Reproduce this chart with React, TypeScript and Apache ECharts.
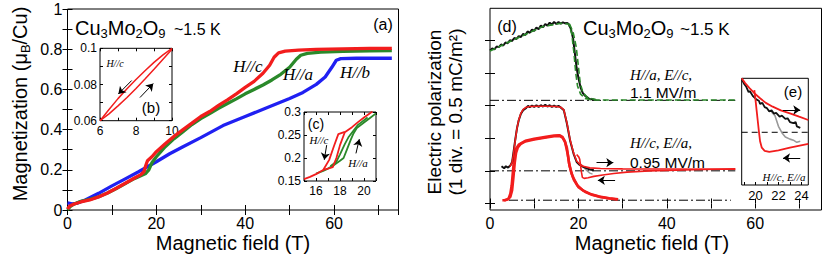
import React, { useEffect, useRef } from 'react';
import * as echarts from 'echarts';

// ---------- Panel (a): magnetization vs field ----------
const magHc = [[0,0.005],[0.5,0.02],[1.5,0.03],[3,0.04],[5,0.05],[7,0.065],[9,0.085],[11,0.108],[13,0.133],[15,0.158],[16.5,0.176],[17.2,0.19],[17.6,0.22],[18,0.245],[19,0.265],[20,0.29],[22,0.33],[24,0.367],[26,0.4],[28,0.432],[30,0.465],[32,0.49],[34,0.52],[36,0.548],[38,0.578],[40,0.61],[42,0.64],[44,0.68],[45.5,0.72],[46.5,0.76],[47.5,0.782],[49,0.79],[52,0.795],[56,0.799],[62,0.802],[68,0.804],[73,0.804]];
const magHa = [[0,0],[0.5,0.015],[1.5,0.03],[3,0.043],[5,0.053],[7,0.066],[9,0.085],[11,0.107],[13,0.131],[15,0.156],[16.5,0.171],[17.5,0.18],[18.3,0.2],[19,0.235],[20,0.265],[22,0.315],[24,0.355],[26,0.39],[28,0.425],[30,0.455],[32,0.48],[34,0.506],[36,0.53],[38,0.553],[40,0.578],[42,0.6],[44,0.622],[46,0.647],[48,0.675],[50,0.71],[51.5,0.75],[52.5,0.77],[54,0.779],[57,0.785],[62,0.789],[68,0.792],[73,0.793]];
const magHb = [[0,0.035],[1,0.03],[2,0.033],[4,0.05],[7,0.083],[10,0.12],[13,0.155],[16,0.19],[18,0.215],[20,0.24],[23,0.28],[26,0.315],[30,0.36],[35,0.42],[40,0.465],[45,0.51],[50,0.555],[53,0.585],[56,0.625],[58,0.662],[59.5,0.71],[60.5,0.745],[61.5,0.753],[65,0.755],[73,0.755]];

// inset (b)
const bDown = [[6,0.06],[6.5,0.0662],[7,0.0722],[7.5,0.0776],[8,0.0828],[8.5,0.0876],[9,0.0922],[9.5,0.0964],[10,0.1]];
const bUp = [[6,0.06],[6.5,0.0638],[7,0.0682],[7.5,0.0728],[8,0.0778],[8.5,0.083],[9,0.0884],[9.5,0.094],[10,0.0995]];
const bArrows = [[[7.76,0.0822],[7.02,0.0748]],[[8.22,0.0728],[8.96,0.0805]]];

// inset (c)
const cRedUp = [[15,0.154],[15.5,0.159],[16,0.165],[16.6,0.174],[17,0.177],[17.4,0.18],[17.7,0.2],[18,0.228],[18.4,0.256],[19,0.267],[19.5,0.278],[20,0.288],[20.7,0.301]];
const cRedDown = [[18.4,0.257],[17.86,0.252],[17.5,0.226],[17.1,0.196],[16.6,0.174]];
const cGreenUp = [[16,0.166],[16.6,0.172],[17,0.177],[17.5,0.185],[18,0.194],[18.3,0.2],[18.6,0.22],[18.9,0.24],[19.1,0.252],[19.4,0.265],[20,0.277],[20.5,0.287],[21,0.297]];
const cGreenDown = [[20.3,0.288],[19.5,0.272],[18.7,0.245],[18.4,0.23],[18,0.208],[17.7,0.192],[17.2,0.182]];
const cArrows = [[[16.89,0.228],[16.69,0.196]],[[19.33,0.21],[19.61,0.241]]];

// ---------- Panel (d): electric polarization (divisions) ----------
const pTopBlack = [[0,4.69],[0.5,4.75],[1,4.72],[1.5,4.81],[2,4.79],[2.5,4.87],[3,4.84],[3.5,4.93],[4,4.91],[4.5,5.0],[5,4.98],[5.5,5.07],[6,5.04],[6.5,5.13],[7,5.1],[7.5,5.2],[8,5.16],[8.5,5.27],[9,5.23],[9.5,5.33],[10,5.29],[10.5,5.39],[11,5.34],[11.5,5.45],[12,5.4],[12.5,5.5],[13,5.45],[13.5,5.54],[14,5.48],[14.5,5.56],[15,5.5],[15.5,5.56],[16,5.51],[16.5,5.55],[17,5.52],[17.5,5.53],[17.8,5.5],[18.3,5.35],[18.8,5.05],[19.2,4.6],[19.6,4.15],[20,3.85],[20.5,3.55],[21,3.38],[21.5,3.3],[22,3.25],[22.5,3.2],[23,3.19],[24,3.17]];
const pTopGreenA = [[0,4.67],[4,4.93],[8,5.18],[12,5.42],[16,5.52],[17.8,5.5],[18.5,5.2],[19,4.6],[19.4,4.0],[19.8,3.6],[20.5,3.35],[21.5,3.22],[23,3.17],[25,3.17],[56,3.17]];
const pTopGreenB = [[18,5.5],[18.8,5.25],[19.5,4.8],[20,4.2],[20.4,3.7],[21,3.4],[22,3.25],[24,3.18]];
const pMidBlack = [[2.6,1.14],[3.2,1.08],[3.6,1.14],[4.1,1.1],[4.6,1.16],[5,1.27],[5.3,1.55],[5.7,1.94],[6.1,2.3],[6.5,2.55],[7,2.75],[7.5,2.86],[8.2,2.93],[8.6,2.99],[9,2.95],[9.5,3.0],[10,2.96],[10.5,3.01],[11,2.96],[11.5,3.01],[12,2.97],[12.5,3.02],[13,2.97],[13.5,3.01],[14,2.96],[14.5,3.0],[15,2.96],[15.5,2.99],[16,2.94],[16.7,2.86],[17.4,2.45],[18.1,1.94],[18.9,1.53],[19.6,1.27],[20.3,1.18],[21.1,1.12],[22.6,1.04],[23.5,1.02]];
const pMidGray = [[20.5,1.2],[21.2,1.1],[22,1.0],[22.6,0.93],[23.2,0.9]];
const pMidRedUp = [[4.5,1.13],[5,1.25],[5.3,1.5],[5.7,1.92],[6.1,2.3],[6.5,2.56],[7,2.77],[7.5,2.88],[8.2,2.95],[9,2.97],[11,2.98],[13,2.98],[15,2.97],[16,2.95],[16.7,2.87],[17.4,2.47],[18.1,1.97],[18.9,1.55],[19.6,1.3],[20.3,1.2],[21.1,1.14],[22.6,1.09],[25,1.07],[30,1.06],[40,1.055],[55.5,1.05]];
const pMidRedDown = [[55.5,1.06],[48,1.04],[42,1.02],[36,1.0],[31,0.96],[28,0.92],[25.5,0.87],[23.5,0.83],[22.2,0.79],[21.3,0.77],[20.9,0.8],[20.7,0.95],[20.5,1.15],[20.3,1.35],[20.1,1.42],[19.6,1.5]];
const pLowRedA = [[2.8,0.1],[3.5,0.1],[4.2,0.15],[4.6,0.3],[4.9,0.55],[5.2,1.0],[5.5,1.45],[5.9,1.68],[6.5,1.8],[8,1.92],[10,1.98],[12.7,2.04],[14.5,2.08],[15.7,2.09],[16.4,2.04],[16.9,1.92],[17.4,1.7],[17.9,1.22],[18.4,0.95],[18.8,0.8],[19.8,0.55],[21,0.4],[22.5,0.3],[24.7,0.21],[27,0.16],[29,0.13]];
const pLowRedB = [[3.2,0.1],[4,0.12],[4.6,0.2],[5,0.4],[5.3,0.8],[5.6,1.25],[5.9,1.55],[6.3,1.72],[7,1.83],[8,1.9],[10,1.96],[12.7,2.02],[14.5,2.06],[15.7,2.07],[16.4,2.02],[17,1.88],[17.6,1.5],[18,1.15],[18.5,0.9],[19,0.72],[20,0.5],[21.5,0.36],[23,0.27],[25,0.2],[27,0.15],[28.8,0.12]];
const pBaseTop = [[0,3.16],[55.5,3.16]];
const pBaseMid = [[0,1.0],[55.5,1.0]];
const pBaseLow = [[4.3,0.1],[54.5,0.1]];
const dArrows = [[[24.1,1.25],[27.9,1.25]],[[28.3,0.71],[24.4,0.71]]];

// inset (e)
const eRedUp = [[18.8,10],[19.1,9.55],[19.5,9.06],[19.9,8.6],[20.4,8.13],[20.9,7.7],[21.5,7.34],[22.2,7.0],[23,6.72],[23.8,6.4],[24.6,6.09]];
const eRedDown = [[19.9,8.9],[20.0,8.0],[20.1,7.0],[20.2,6.0],[20.3,5.0],[20.4,4.1],[20.55,3.5],[20.8,3.2],[21.2,3.1],[22,3.25],[23,3.5],[24.6,3.85]];
const eBlack = [[18.8,9.9],[19.0,9.5],[19.2,9.2],[19.4,8.7],[19.5,8.8],[19.8,8.3],[20.1,8.0],[20.3,7.9],[20.4,7.6],[20.6,7.7],[20.8,7.3],[21.0,7.2],[21.2,6.9],[21.4,7.0],[21.6,6.7],[21.8,6.75],[22.1,6.4],[22.3,6.5],[22.6,6.2],[22.8,6.25],[23,5.9],[23.3,5.8],[23.5,5.9],[23.6,5.5],[23.9,5.35]];
const eGray = [[21.4,6.85],[21.7,6.5],[22,5.5],[22.3,4.9],[22.6,4.5],[23,4.3],[23.3,4.2],[23.6,4.0],[23.9,4.1]];
const eBase = [[18.8,4.94],[24.6,4.94]];
const eArrows = [[[22.4,7.03],[23.9,7.03]],[[23.9,2.53],[22.4,2.53]]];

const SANS = 'Liberation Sans, Arial, sans-serif';
const SERIF = 'Liberation Serif, Times New Roman, serif';
const RED = '#f21d1d';
const GREEN = '#2a892a';
const BLUE = '#2020f2';

export default function App() {
  const ref = useRef<HTMLDivElement>(null);
  useEffect(() => {
    const chart = echarts.init(ref.current!, null, { renderer: 'svg' });
    const tick = (len: number, extra: any = {}) => ({ show: true, inside: true, length: len, lineStyle: { color: '#000', width: 1 }, ...extra });
    const noSplit = { show: false };
    const lab = (size: number, margin: number, formatter?: any, extra: any = {}) => ({ show: true, color: '#000', fontSize: size, fontFamily: SANS, margin, formatter, ...extra });
    const even10 = (v: number) => { const r = Math.round(v * 10); return r % 2 === 0 ? String(r / 10) : ''; };
    const even100 = (v: number) => { const r = Math.round(v * 100); return r % 2 === 0 ? String(r / 100) : ''; };
    const mult20 = (v: number) => { const r = Math.round(v); return Math.abs(v - r) < 1e-6 && r % 20 === 0 ? String(r) : ''; };
    const evenInt = (v: number) => { const r = Math.round(v); return Math.abs(v - r) < 1e-6 && r % 2 === 0 ? String(r) : ''; };

    const ax = (gridIndex: number, min: number, max: number, position: string, t: any, l: any, interval?: number) => ({
      type: 'value', gridIndex, min, max, interval, position,
      axisLine: { show: false }, axisTick: t, axisLabel: l || { show: false }, splitLine: noSplit,
    });

    const line = (xi: number, data: any, color: string, width: number, extra: any = {}) => ({
      type: 'line', xAxisIndex: xi, yAxisIndex: xi, data, showSymbol: false, symbol: 'none', silent: true,
      lineStyle: { color, width, ...(extra.lineStyle || {}) }, z: extra.z || 2, smooth: extra.smooth || false,
    });
    const arrows = (xi: number, segs: any) => ({
      type: 'lines', coordinateSystem: 'cartesian2d', xAxisIndex: xi, yAxisIndex: xi, silent: true,
      symbol: ['none', 'arrow'], symbolSize: 7, z: 5,
      lineStyle: { color: '#000', width: 1, opacity: 1, curveness: 0 },
      data: segs.map((c: any) => ({ coords: c })),
    });

    const gridBox = { show: true, borderColor: '#000', borderWidth: 1, backgroundColor: '#fff' };

    const txt = (x: number, y: number, text: string, font: string, align = 'left', extra: any = {}) => ({
      type: 'text', x, y, z: 10, ...extra,
      style: { text, font, fill: '#000', align, verticalAlign: 'middle', ...(extra.style || {}) },
    });
    const formula = (x: number, y: number) => ({
      type: 'text', x, y, z: 10,
      style: {
        text: '{n|Cu}{s|3}{n|Mo}{s|2}{n|O}{s|9}', fill: '#000', align: 'left', verticalAlign: 'middle',
        rich: {
          n: { fontSize: 20, fontFamily: SANS, fill: '#000' },
          s: { fontSize: 13, fontFamily: SANS, fill: '#000', padding: [10, 0, 0, 0] },
        },
      },
    });

    const option: any = {
      animation: false,
      backgroundColor: '#fff',
      textStyle: { fontFamily: SANS },
      grid: [
        { left: 67.5, top: 9, width: 331, height: 201, ...gridBox },
        { left: 100, top: 48.3, width: 72, height: 72.4, ...gridBox },
        { left: 304, top: 112, width: 72, height: 69, ...gridBox },
        { left: 490, top: 8.3, width: 331.5, height: 201.7, ...gridBox },
        { left: 741.7, top: 78.3, width: 66.6, height: 106.7, ...gridBox },
      ],
      xAxis: [
        ax(0, 0, 74.5, 'bottom', tick(5), lab(16, 5, mult20), 10),
        ax(1, 6, 10, 'bottom', tick(3), lab(12, 4, evenInt), 1),
        ax(2, 15, 21, 'bottom', tick(3), lab(12, 4, evenInt), 1),
        ax(3, 0, 75, 'bottom', tick(5), lab(16, 5, mult20), 10),
        ax(4, 18.8, 24.6, 'bottom', tick(3, { customValues: [19, 20, 21, 22, 23, 24] }), lab(13, 4, undefined, { customValues: [20, 22, 24] })),
        ax(0, 0, 74.5, 'top', tick(5), null, 10),
        ax(1, 6, 10, 'top', tick(3), null, 1),
        ax(2, 15, 21, 'top', tick(3), null, 1),
        ax(3, 0, 75, 'top', tick(5), null, 10),
      ],
      yAxis: [
        ax(0, 0, 1, 'left', tick(5), lab(16, 5, even10), 0.1),
        ax(1, 0.06, 0.1, 'left', tick(3), lab(12, 3, even100), 0.01),
        ax(2, 0.15, 0.3, 'left', tick(3), lab(12, 3, (v: number) => String(Math.round(v * 100) / 100)), 0.05),
        ax(3, -0.2, 5.98, 'left', tick(5, { customValues: [0, 1, 2, 3, 4, 5] }), null),
        ax(4, 0, 10, 'left', { show: false }, null),
        ax(0, 0, 1, 'right', tick(5), null, 0.1),
        ax(1, 0.06, 0.1, 'right', tick(3), null, 0.01),
        ax(2, 0.15, 0.3, 'right', tick(3), null, 0.05),
        ax(3, -0.2, 5.98, 'right', tick(5, { customValues: [0, 1, 2, 3, 4, 5] }), null),
      ],
      series: [
        // (a)
        line(0, magHb, BLUE, 3.3),
        line(0, magHa, GREEN, 3.3),
        line(0, magHc, RED, 3.3),
        // (b)
        line(1, bDown, RED, 1.5),
        line(1, bUp, RED, 1.5),
        arrows(1, bArrows),
        // (c)
        line(2, cGreenUp, GREEN, 1.8),
        line(2, cGreenDown, GREEN, 1.8),
        line(2, cRedUp, RED, 1.8),
        line(2, cRedDown, RED, 1.8),
        arrows(2, cArrows),
        // (d)
        line(3, pBaseTop, '#000', 1, { lineStyle: { type: [9, 3, 2, 3] } }),
        line(3, pBaseMid, '#000', 1, { lineStyle: { type: [9, 3, 2, 3] } }),
        line(3, pBaseLow, '#000', 1, { lineStyle: { type: [9, 3, 2, 3] } }),
        line(3, pTopBlack, '#111', 2),
        line(3, pTopGreenA, GREEN, 1.6, { lineStyle: { type: [6, 3] }, z: 3 }),
        line(3, pTopGreenB, GREEN, 1.6, { lineStyle: { type: [6, 3] }, z: 3 }),
        line(3, pLowRedA, RED, 2.6),
        line(3, pLowRedB, RED, 2.6),
        line(3, pMidGray, '#999', 1.5),
        line(3, pMidBlack, '#111', 2),
        line(3, pMidRedUp, RED, 1.6, { z: 3 }),
        line(3, pMidRedDown, RED, 1.6, { z: 3 }),
        arrows(3, dArrows),
        // (e)
        line(4, eBase, '#000', 1, { lineStyle: { type: [6, 4] } }),
        line(4, eGray, '#999', 1.6),
        line(4, eBlack, '#111', 1.8),
        line(4, eRedUp, RED, 1.8),
        line(4, eRedDown, RED, 1.8),
        arrows(4, eArrows),
      ],
      graphic: [
        // panel (a)
        formula(75, 28),
        txt(174, 29, '~1.5 K', `16px ${SANS}`),
        txt(383, 24, '(a)', `16px ${SANS}`, 'center'),
        txt(248, 66, 'H//c', `italic 17px ${SERIF}`, 'center'),
        txt(298, 74, 'H//a', `italic 17px ${SERIF}`, 'center'),
        txt(355, 72, 'H//b', `italic 17px ${SERIF}`, 'center'),
        txt(115, 63, 'H//c', `italic 10px ${SERIF}`, 'center'),
        txt(151, 107, '(b)', `15px ${SANS}`, 'center'),
        txt(316, 124, '(c)', `14px ${SANS}`, 'center'),
        txt(319, 140, 'H//c', `italic 11px ${SERIF}`, 'center'),
        txt(358, 163, 'H//a', `italic 11px ${SERIF}`, 'center'),
        txt(20, 104, '', '', 'center', {
          rotation: Math.PI / 2,
          style: {
            text: '{n|Magnetization (μ}{s|B}{n|/Cu)}',
            rich: {
              n: { fontSize: 20, fontFamily: SANS, fill: '#000' },
              s: { fontSize: 13, fontFamily: SANS, fill: '#000', padding: [10, 0, 0, 0] },
            },
          },
        }),
        txt(233, 243, 'Magnetic field (T)', `20px ${SANS}`, 'center'),
        // panel (d)
        txt(507, 26, '(d)', `16px ${SANS}`, 'center'),
        formula(583, 28),
        txt(680, 29, '~1.5 K', `17px ${SANS}`),
        txt(630, 75, 'H//a, E//c,', `italic 15px ${SERIF}`),
        txt(630, 92, '1.1 MV/m', `15.5px ${SANS}`),
        txt(630, 143, 'H//c, E//a,', `italic 15px ${SERIF}`),
        txt(630, 162, '0.95 MV/m', `15.5px ${SANS}`),
        txt(793, 91, '(e)', `15px ${SANS}`, 'center'),
        txt(784, 177, 'H//c, E//a', `italic 11px ${SERIF}`, 'center'),
        txt(434, 112, 'Electric polarization', `19px ${SANS}`, 'center', { rotation: Math.PI / 2 }),
        txt(455, 112, '(1 div. = 0.5 mC/m²)', `19px ${SANS}`, 'center', { rotation: Math.PI / 2 }),
        txt(652, 243, 'Magnetic field (T)', `20px ${SANS}`, 'center'),
      ],
    };
    chart.setOption(option);
    return () => chart.dispose();
  }, []);
  return <div ref={ref} style={{ position: 'fixed', left: 0, top: 0, width: 830, height: 261, background: '#fff' }} />;
}
